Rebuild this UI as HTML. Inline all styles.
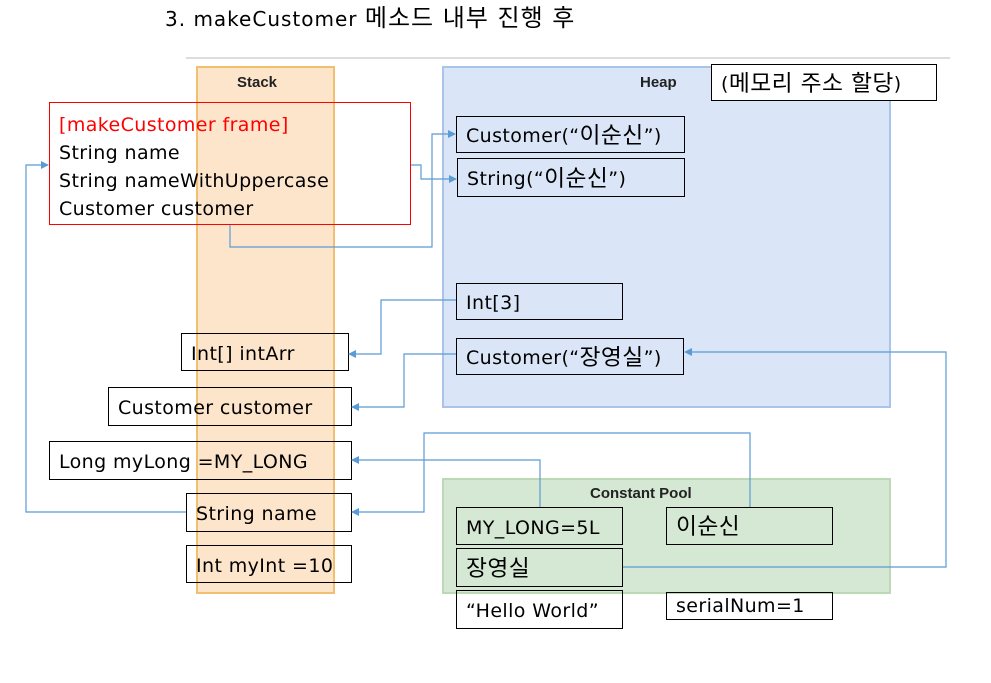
<!DOCTYPE html>
<html><head><meta charset="utf-8"><style>
body{margin:0;width:991px;height:683px;background:#fff;position:relative;overflow:hidden;font-family:"DejaVu Sans","Noto Sans CJK KR",sans-serif;}
.a{position:absolute;box-sizing:border-box;}
.b{position:absolute;box-sizing:border-box;border:1px solid #000;font-size:19px;letter-spacing:0.4px;padding-left:9px;padding-top:3px;display:flex;align-items:center;white-space:nowrap;color:#000;}
.h{position:absolute;font-weight:bold;font-size:15px;color:#222;font-family:"Liberation Sans",sans-serif;}
.k{font-size:1.2em;line-height:1;}
</style></head><body>
<div class="a" style="left:165px;top:6px;font-size:20px;letter-spacing:1px;white-space:nowrap">3. makeCustomer <span class="k">메소드 내부 진행 후</span></div>
<div class="a" style="left:186px;top:57px;width:764px;height:2px;background:#ddd"></div>
<div class="a" style="left:196px;top:66px;width:139px;height:528px;background:#fde5cc;border:2px solid #f0c070"></div>
<div class="h" style="left:237px;top:74px">Stack</div>
<div class="a" style="left:442px;top:66px;width:449px;height:342px;background:#dae6f7;border:2px solid #a9c4e8"></div>
<div class="h" style="left:640px;top:74px">Heap</div>
<div class="a" style="left:442px;top:478px;width:449px;height:116px;background:#d5e8d4;border:2px solid #bcd8b5"></div>
<div class="h" style="left:590px;top:485px">Constant Pool</div>
<div class="b" style="left:711px;top:64px;width:226px;height:37px;background:#fff;">(<span class="k">메모리 주소 할당</span>)</div>

<div class="a" style="left:49px;top:102px;width:362px;height:123px;border:1px solid #f00;font-size:19px;letter-spacing:0.4px;padding:8px 0 0 9px;line-height:28px;white-space:nowrap"><span style="color:#f00">[makeCustomer frame]</span><br>String name<br>String nameWithUppercase<br>Customer customer</div>

<div class="b" style="left:456px;top:116px;width:229px;height:37px;">Customer(“<span class="k">이순신</span>”)</div>
<div class="b" style="left:457px;top:158px;width:228px;height:39px;">String(“<span class="k">이순신</span>”)</div>
<div class="b" style="left:456px;top:283px;width:167px;height:37px;">Int[3]</div>
<div class="b" style="left:456px;top:338px;width:228px;height:37px;">Customer(“<span class="k">장영실</span>”)</div>

<div class="b" style="left:181px;top:333px;width:168px;height:38px;">Int[] intArr</div>
<div class="b" style="left:108px;top:387px;width:244px;height:39px;">Customer customer</div>
<div class="b" style="left:49px;top:441px;width:303px;height:39px;">Long myLong =MY_LONG</div>
<div class="b" style="left:186px;top:493px;width:166px;height:39px;">String name</div>
<div class="b" style="left:186px;top:545px;width:166px;height:38px;">Int myInt =10</div>

<div class="b" style="left:456px;top:507px;width:167px;height:38px;">MY_LONG=5L</div>
<div class="b" style="left:666px;top:507px;width:167px;height:38px;"><span class="k">이순신</span></div>
<div class="b" style="left:456px;top:548px;width:167px;height:39px;"><span class="k">장영실</span></div>
<div class="b" style="left:456px;top:590px;width:167px;height:39px;">“Hello World”</div>
<div class="b" style="left:666px;top:592px;width:167px;height:28px;padding-top:0">serialNum=1</div>

<svg class="a" style="left:0;top:0" width="991" height="683">
<defs><marker id="m" markerWidth="8" markerHeight="8" refX="7" refY="4" orient="auto" markerUnits="userSpaceOnUse"><path d="M0,0L8,4L0,8z" fill="#5b9bd5"/></marker></defs>
<g fill="none" stroke="#5b9bd5" stroke-width="1.2">
<polyline points="411,165 421,165 421,179 456,179" marker-end="url(#m)"/>
<polyline points="230,225 230,247 432,247 432,134 455,134" marker-end="url(#m)"/>
<polyline points="456,300 381,300 381,354 349,354" marker-end="url(#m)"/>
<polyline points="456,354 404,354 404,407 352,407" marker-end="url(#m)"/>
<polyline points="540,507 540,460 352,460" marker-end="url(#m)"/>
<polyline points="750,507 750,433 424,433 424,512 352,512" marker-end="url(#m)"/>
<polyline points="623,567 946,567 946,352 685,352" marker-end="url(#m)"/>
<polyline points="186,512 26,512 26,165 48,165" marker-end="url(#m)"/>
</g></svg>
</body></html>
